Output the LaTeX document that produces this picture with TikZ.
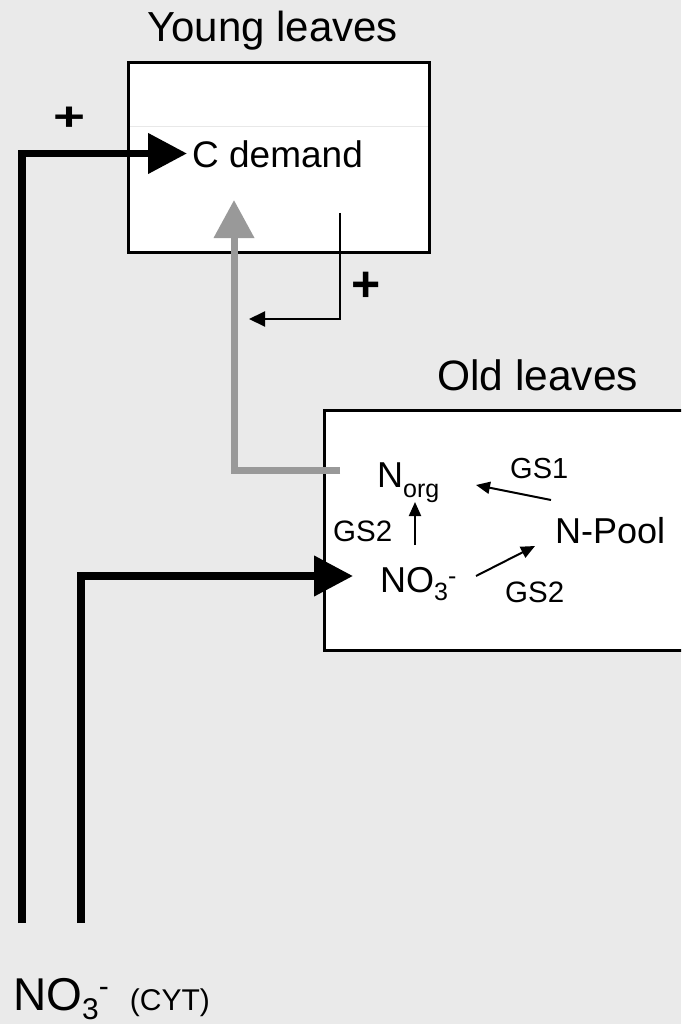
\documentclass[tikz,border=0pt]{standalone}
\usepackage{fontspec}
\setmainfont{Liberation Sans}
\usetikzlibrary{arrows.meta}
\definecolor{bg}{HTML}{EAEAEA}
\definecolor{grayarr}{HTML}{999999}
\definecolor{faint}{HTML}{E8E8E8}
\newcommand{\fs}[1]{\fontsize{#1}{#1}\selectfont}
\begin{document}
\begin{tikzpicture}[x=1pt,y=-1pt,
  box/.style={draw=black, line width=3pt, fill=white, inner sep=0pt},
  txt/.style={inner sep=0pt, anchor=base west},
  plus/.style={inner sep=0pt, anchor=base},
  thickarrow/.style={line width=7.5pt, -{Triangle[length=39pt,width=39pt]}},
  greyarrow/.style={draw=grayarr, line width=7pt, -{Triangle[length=38pt,width=39pt]}},
  thinarrow/.style={line width=2pt, -{Triangle[length=16pt,width=15pt]}},
  smallarrow/.style={line width=2pt, -{Triangle[length=14pt,width=12pt]}}]
\fill[bg] (0,0) rectangle (681,1024);
\useasboundingbox (0,0) rectangle (681,1024);
\clip (0,0) rectangle (681,1024);

% boxes
\node[box, minimum width=301pt, minimum height=190pt] (young) at (279,157.5) {};
\draw[faint, line width=1pt] (130,127) -- (428,127);
\node[box, minimum width=400pt, minimum height=240pt] (old) at (524.5,530.5) {};

% titles
\node[txt] (tyoung) at (147,42) {\fs{42}Young leaves};
\node[txt] (told) at (437,390) {\fs{42.5}Old leaves};

% texts
\node[txt] (cdem) at (192,168) {\fs{37}C demand};
\node[txt] (norg) at (377,487) {\fs{36}N\raisebox{-10pt}{\fs{25}org}};
\node[txt] (gsone) at (510,478) {\fs{29}GS1};
\node[txt] (gstwoa) at (333,541) {\fs{29.5}GS2};
\node[txt] (npool) at (555,543) {\fs{36}N-Pool};
\node[txt] (nothree) at (380,592) {\fs{36}NO\raisebox{-8pt}{\fs{25}3}\raisebox{8pt}{\fs{25}-}};
\node[txt] (gstwob) at (505,602) {\fs{29.5}GS2};
\node[txt] (cyt) at (13,1010) {\fs{46}NO\raisebox{-9pt}{\fs{30}3}\raisebox{14pt}{\fs{30}-}\hspace{21pt}\fs{30}(CYT)};

\node[plus] (plusa) at (70,130.5) {\scalebox{1.37}[1]{\fs{40}\bfseries +}};
\node[plus] (plusb) at (366.5,301.5) {\fs{50}\bfseries +};

% connectors
\coordinate (s1) at (22,923);
\coordinate (e1) at (187,153.5);
\draw[thickarrow] (s1) |- (e1);

\coordinate (s2) at (81,923);
\coordinate (e2) at (353,576);
\draw[thickarrow] (s2) |- (e2);

\coordinate (gs) at (340,470);
\coordinate (ge) at (234,200);
\draw[greyarrow] (gs) -| (ge);

\coordinate (ts) at (340,213);
\coordinate (te) at (249,319);
\draw[thinarrow] (ts) |- (te);

\coordinate (ua) at (415,545);
\coordinate (ub) at (415,502);
\draw[smallarrow] (ua) -- (ub);

\coordinate (pa) at (551,500);
\coordinate (pb) at (476,485);
\draw[smallarrow] (pa) -- (pb);

\coordinate (qa) at (476,576);
\coordinate (qb) at (535,546);
\draw[smallarrow] (qa) -- (qb);
\end{tikzpicture}
\end{document}
